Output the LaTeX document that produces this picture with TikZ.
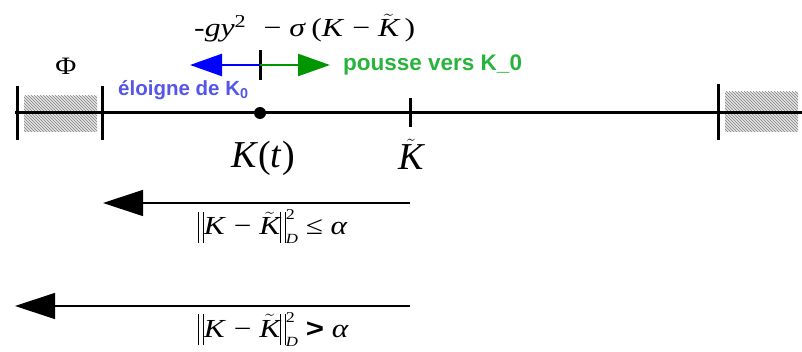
\documentclass[tikz,border=0pt]{standalone}
\usepackage{amsmath}
\usepackage{graphicx}
\usepackage{fontspec}
\setmainfont{Liberation Serif}
\newfontfamily\labelfont{Liberation Sans}
\usetikzlibrary{arrows.meta,patterns}
\definecolor{kblue}{RGB}{0,0,255}
\definecolor{kgreen}{RGB}{0,150,0}
\definecolor{tblue}{RGB}{85,85,235}
\definecolor{tgreen}{RGB}{40,180,60}
\newcommand\myKt{$\tilde{\mbox{\itshape K}}$}
\newcommand\mynormbar{\rule[-8pt]{0.9pt}{31pt}\hspace{3pt}\rule[-8pt]{0.9pt}{31pt}}
\newcommand\mysupsub{\makebox[0pt][l]{\raisebox{15pt}{\fontsize{15}{15}\selectfont 2}}\raisebox{-9pt}{\fontsize{14}{14}\selectfont\itshape D}}
\begin{document}
\begin{tikzpicture}[x=1pt,y=-1pt,
  axis/.style={line width=3pt},
  tickmark/.style={line width=3pt},
  hatchbox/.style={pattern=north west lines,pattern color=gray},
  bigarrow/.style={line width=1.2pt,-{Triangle[length=40pt,width=26pt]}},
  forcearrow/.style={line width=2.5pt,-{Triangle[length=32pt,width=22pt]}},
  mathlbl/.style={inner sep=0pt,font=\fontsize{26}{30}\selectfont},
  biglbl/.style={inner sep=0pt,font=\fontsize{38}{44}\selectfont},
  bluelbl/.style={inner sep=0pt,tblue,font=\labelfont\bfseries\fontsize{20.5}{24}\selectfont},
  greenlbl/.style={inner sep=0pt,tgreen,font=\labelfont\bfseries\fontsize{22.5}{26}\selectfont}]
\useasboundingbox (0,0) rectangle (802,352);
% hatched regions
\fill[gray!20] (24,96) rectangle (97,132);
\fill[hatchbox] (24,96) rectangle (97,132);
\fill[gray!20] (725,92) rectangle (798,132);
\fill[hatchbox] (725,92) rectangle (798,132);
% main axis
\coordinate (L) at (15,113);
\coordinate (R) at (802,113);
\draw[axis] (L) -- (R);
% ticks
\coordinate (t1a) at (17,86); \coordinate (t1b) at (17,140);
\coordinate (t2a) at (102,86); \coordinate (t2b) at (102,140);
\coordinate (t3a) at (718,84); \coordinate (t3b) at (718,140);
\coordinate (t4a) at (410,98); \coordinate (t4b) at (410,127);
\coordinate (t5a) at (260,50); \coordinate (t5b) at (260,80);
\draw[tickmark] (t1a) -- (t1b);
\draw[tickmark] (t2a) -- (t2b);
\draw[tickmark] (t3a) -- (t3b);
\draw[tickmark] (t4a) -- (t4b);
\draw[tickmark] (t5a) -- (t5b);
% point K(t)
\node[circle,fill,inner sep=0pt,minimum size=12pt] (dot) at (260,113) {};
% force arrows
\coordinate (fo) at (260,65);
\coordinate (fl) at (190,65);
\coordinate (fr) at (330,65);
\draw[forcearrow,kblue] (fo) -- (fl);
\draw[forcearrow,kgreen] (fo) -- (fr);
% labels
\node[inner sep=0pt,font=\fontsize{26}{30}\selectfont,anchor=base west] (top) at (194,37)
  {\scalebox{1.22}[1]{-\textit{gy}\textsuperscript{2}\hspace{14pt}− \textit{σ}\,(\textit{K} − \myKt\,)}};
\node[inner sep=0pt,font=\fontsize{25}{28}\selectfont] (phi) at (66,66) {\scalebox{1.15}[1]{Φ}};
\node[bluelbl,anchor=west] (eloigne) at (118,90) {éloigne de K\textsubscript{0}};
\node[greenlbl,anchor=west] (pousse) at (343,65) {pousse vers K\_0};
\node[biglbl,anchor=base] (kt) at (263,168) {\textit{K}(\textit{t})};
\node[biglbl,anchor=base] (kt2) at (411,170) {\myKt};
% bottom arrows
\coordinate (a1s) at (410,203); \coordinate (a1e) at (103,203);
\coordinate (a2s) at (410,306); \coordinate (a2e) at (15,306);
\draw[bigarrow] (a1s) -- (a1e);
\draw[bigarrow] (a2s) -- (a2e);
\node[mathlbl,anchor=base west] (c1) at (198,235)
  {\scalebox{1.2}[1]{\mynormbar\textit{K} − \myKt\mynormbar\mysupsub\ ≤ \textit{α}}};
\node[mathlbl,anchor=base west] (c2) at (198,337)
  {\scalebox{1.2}[1]{\mynormbar\textit{K} − \myKt\mynormbar\mysupsub\ {\labelfont\bfseries >} \textit{α}}};
\end{tikzpicture}
\end{document}
